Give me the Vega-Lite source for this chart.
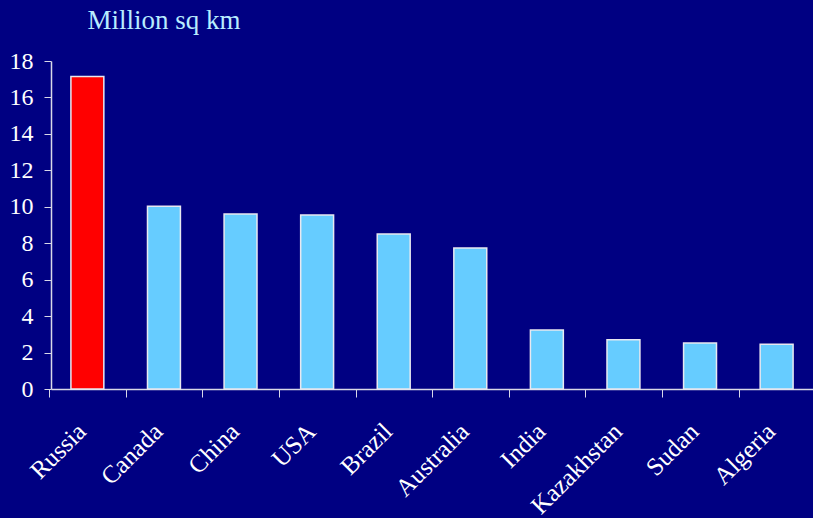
{
  "$schema": "https://vega.github.io/schema/vega-lite/v6.json",
  "width": 762,
  "height": 328,
  "autosize": "none",
  "padding": {"left": 51, "top": 61, "right": 0, "bottom": 129},
  "background": "#000082",
  "data": {
    "values": [
      {"country": "Russia", "area": 17.15, "highlight": "yes"},
      {"country": "Canada", "area": 10.03, "highlight": "no"},
      {"country": "China", "area": 9.6, "highlight": "no"},
      {"country": "USA", "area": 9.55, "highlight": "no"},
      {"country": "Brazil", "area": 8.5, "highlight": "no"},
      {"country": "Australia", "area": 7.74, "highlight": "no"},
      {"country": "India", "area": 3.24, "highlight": "no"},
      {"country": "Kazakhstan", "area": 2.7, "highlight": "no"},
      {"country": "Sudan", "area": 2.52, "highlight": "no"},
      {"country": "Algeria", "area": 2.45, "highlight": "no"}
    ]
  },
  "mark": {"type": "bar", "stroke": "#e8e8f0", "strokeWidth": 1.5},
  "encoding": {
    "x": {
      "field": "country",
      "type": "nominal",
      "sort": null,
      "scale": {"paddingInner": 0.57, "paddingOuter": 0.26},
      "axis": {
        "title": null,
        "labelAngle": -45,
        "labelAlign": "right",
        "labelBaseline": "middle",
        "labelFont": "Liberation Serif",
        "labelFontSize": 25,
        "labelColor": "#ffffff",
        "labelPadding": 30,
        "labelOffset": 32,
        "tickOffset": -38.1,
        "tickSize": 8,
        "tickColor": "#d8d8e8",
        "domainColor": "#d8d8e8",
        "domainWidth": 1.5
      }
    },
    "y": {
      "field": "area",
      "type": "quantitative",
      "scale": {"domain": [0, 18], "nice": false},
      "axis": {
        "values": [0, 2, 4, 6, 8, 10, 12, 14, 16, 18],
        "grid": false,
        "title": "Million sq km",
        "titleAngle": 0,
        "titleAlign": "left",
        "titleBaseline": "alphabetic",
        "titleX": 36,
        "titleY": -33,
        "titleFont": "Liberation Serif",
        "titleFontSize": 27,
        "titleFontWeight": "normal",
        "titleColor": "#b8ecff",
        "labelFont": "Liberation Serif",
        "labelFontSize": 24,
        "labelColor": "#ffffff",
        "labelPadding": 11,
        "tickSize": 7,
        "tickColor": "#d8d8e8",
        "domainColor": "#d8d8e8",
        "domainWidth": 1.5
      }
    },
    "color": {
      "field": "highlight",
      "type": "nominal",
      "scale": {"domain": ["yes", "no"], "range": ["#ff0000", "#66ccff"]},
      "legend": null
    }
  },
  "config": {"view": {"stroke": null}}
}
